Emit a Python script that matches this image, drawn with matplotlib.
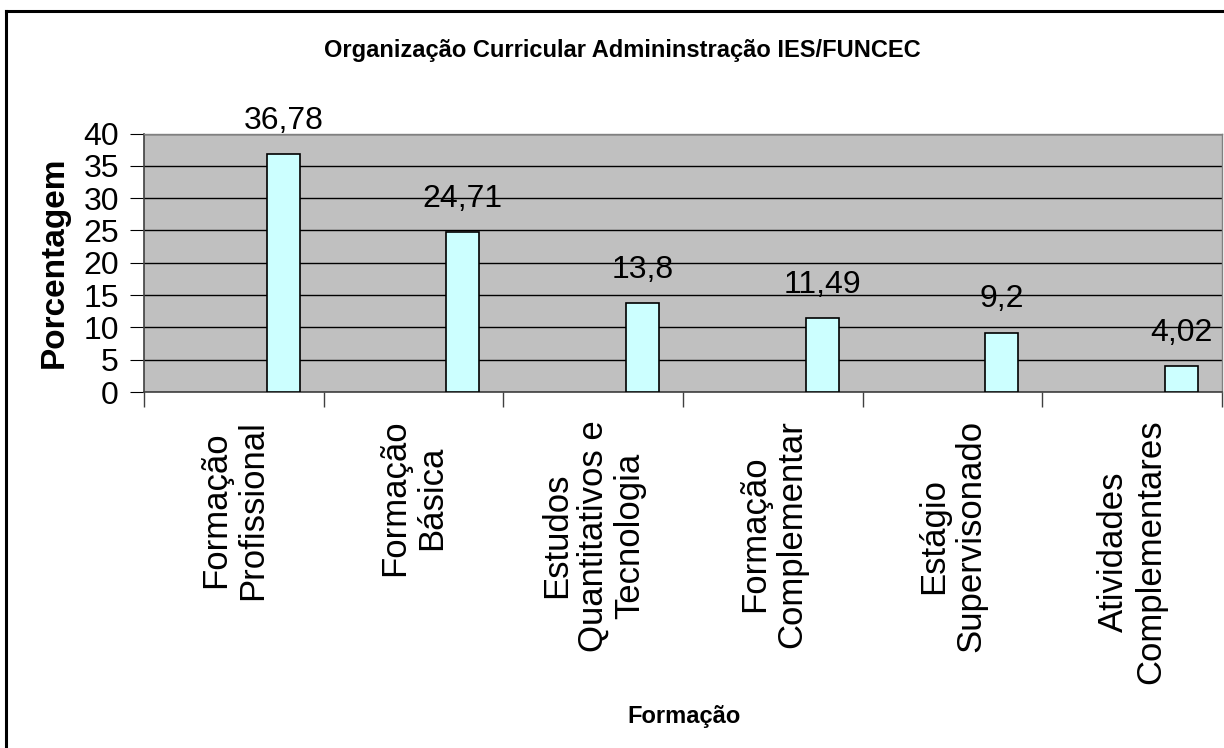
import matplotlib.pyplot as plt
from matplotlib.lines import Line2D
import numpy as np

# ------------------------------------------------------------
# Data
# ------------------------------------------------------------
categorias = [
    'Formação\nProfissional',
    'Formação\nBásica',
    'Estudos\nQuantitativos e\nTecnologia',
    'Formação\nComplementar',
    'Estágio\nSupervisonado',
    'Atividades\nComplementares',
]
percentuais = [36.78, 24.71, 13.8, 11.49, 9.2, 4.02]
rotulos = ['36,78', '24,71', '13,8', '11,49', '9,2', '4,02']
y_ticks = [0, 5, 10, 15, 20, 25, 30, 35, 40]

plt.rcParams['font.family'] = ['Liberation Sans', 'DejaVu Sans']

fig = plt.figure(figsize=(12.24, 7.48), dpi=100)
ax = fig.add_axes([144 / 1224, 1 - 392 / 748, (1222 - 144) / 1224, (392 - 133.5) / 748])

x = np.arange(len(categorias))
# bar sits on the right part of each category slot (Excel-like clustered layout)
bars = ax.bar(x + 0.275, percentuais, width=0.183, color='#CCFFFF',
              edgecolor='black', linewidth=1.2, zorder=3)

for b, txt in zip(bars, rotulos):
    ax.annotate(txt, (b.get_x() + b.get_width() / 2, b.get_height()),
                xytext=(0, 13), textcoords='offset points',
                ha='center', va='bottom', fontsize=23)

ax.set_facecolor('#C0C0C0')
ax.set_xlim(-0.5, 5.5)
ax.set_ylim(0, 40)
ax.set_yticks(y_ticks)
ax.yaxis.grid(True, color='black', linewidth=1)
ax.set_axisbelow(True)
ax.tick_params(axis='y', labelsize=23, length=10, pad=8, direction='out')

ax.set_xticks(x)
ax.set_xticklabels(categorias, rotation=90, fontsize=25, multialignment='center',
                   linespacing=1.15)
ax.tick_params(axis='x', length=0, pad=20)
ax.set_xticks(np.arange(-0.5, 6.0, 1.0), minor=True)
ax.tick_params(axis='x', which='minor', length=11, width=1, color='#404040')

for s in ['left', 'bottom']:
    ax.spines[s].set_color('#404040')
    ax.spines[s].set_linewidth(1.2)
for s in ['top', 'right']:
    ax.spines[s].set_color('#808080')
    ax.spines[s].set_linewidth(1)

ax.set_ylabel('Porcentagem', fontsize=24, fontweight='bold', labelpad=10)

fig.text(622 / 1224, 1 - 50 / 748, 'Organização Curricular Admininstração IES/FUNCEC',
         ha='center', va='center', fontsize=17, fontweight='bold')
fig.text(684 / 1224, 1 - 716 / 748, 'Formação', ha='center', va='center',
         fontsize=17, fontweight='bold')

# chart border (only top and left are inside the picture)
fig.add_artist(Line2D([6 / 1224, 1.01], [1 - 11 / 748, 1 - 11 / 748],
                      color='black', linewidth=2.2, transform=fig.transFigure))
fig.add_artist(Line2D([6 / 1224, 6 / 1224], [-0.01, 1 - 11 / 748],
                      color='black', linewidth=2.2, transform=fig.transFigure))

plt.savefig('out.png', dpi=100)
